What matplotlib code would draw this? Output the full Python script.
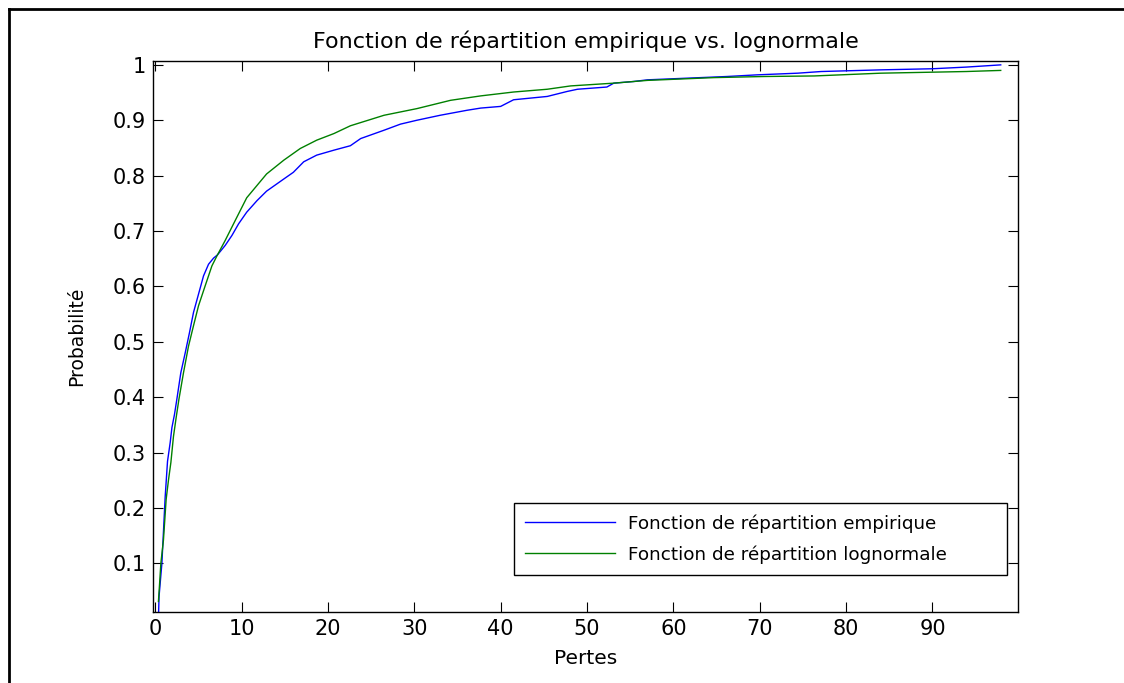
import matplotlib
matplotlib.use("Agg")
import matplotlib.pyplot as plt
from matplotlib.lines import Line2D

plt.rcParams['font.family'] = ['DejaVu Sans']

emp_x = [0.38, 0.45, 0.78, 1.16, 1.43, 1.74, 1.94, 2.24, 2.51, 2.97, 3.48, 3.98,
         4.44, 5.02, 5.6, 6.18, 6.76, 7.22, 8.11, 8.89, 9.66, 10.6, 11.8, 12.9,
         14.9, 16.0, 17.2, 18.7, 20.7, 22.6, 23.8, 26.5, 28.4, 30.3, 33.0, 36.1,
         37.7, 40.0, 41.5, 45.4, 47.7, 48.9, 52.3, 53.1, 55.4, 57.0, 66.2, 69.7,
         74.4, 77.1, 84.0, 90.0, 93.9, 97.9]
emp_y = [0.0, 0.04, 0.10, 0.22, 0.284, 0.318, 0.345, 0.369, 0.396, 0.444, 0.48, 0.517,
         0.553, 0.586, 0.619, 0.64, 0.651, 0.657, 0.674, 0.692, 0.713, 0.734, 0.755, 0.772,
         0.794, 0.806, 0.825, 0.837, 0.846, 0.854, 0.867, 0.882, 0.893, 0.900, 0.909, 0.918,
         0.922, 0.925, 0.937, 0.943, 0.952, 0.956, 0.960, 0.967, 0.970, 0.973, 0.979, 0.982,
         0.985, 0.988, 0.991, 0.993, 0.996, 1.0]

# Lognormal CDF
logn_x = [0.38, 0.5, 0.66, 0.96, 1.27, 1.54, 1.82, 2.12, 2.43, 2.75, 3.28, 3.86,
          4.44, 5.02, 5.79, 6.57, 7.15, 8.11, 9.27, 10.6, 12.9, 14.9, 16.8, 18.7,
          20.7, 22.6, 26.5, 30.3, 34.2, 37.7, 41.5, 45.4, 48.1, 53.1, 57.0, 64.7,
          70.5, 76.3, 84.0, 93.9, 97.9]
logn_y = [0.031, 0.06, 0.10, 0.142, 0.215, 0.25, 0.282, 0.329, 0.363, 0.396, 0.444, 0.492,
          0.529, 0.565, 0.601, 0.637, 0.655, 0.683, 0.719, 0.760, 0.803, 0.828, 0.849, 0.864,
          0.876, 0.89, 0.909, 0.921, 0.936, 0.944, 0.951, 0.956, 0.962, 0.967, 0.972, 0.977,
          0.979, 0.980, 0.985, 0.988, 0.990]

x_ticks = [0, 10, 20, 30, 40, 50, 60, 70, 80, 90]
y_ticks = [0.1, 0.2, 0.3, 0.4, 0.5, 0.6, 0.7, 0.8, 0.9, 1.0]
y_tick_labels = ['0.1', '0.2', '0.3', '0.4', '0.5', '0.6', '0.7', '0.8', '0.9', '1']

fig = plt.figure(figsize=(11.24, 6.83), dpi=100)
W, H = 1124, 683
ax = fig.add_axes([153 / W, 1 - 612 / H, (1018 - 153) / W, (612 - 61) / H])

ax.plot(emp_x, emp_y, color=(0, 0, 1), lw=1.0, label='Fonction de répartition empirique')
ax.plot(logn_x, logn_y, color=(0, 0.5, 0), lw=1.0, label='Fonction de répartition lognormale')

ax.set_xlim(-0.25, 99.9)
ax.set_ylim(0.012, 1.007)
ax.set_xticks(x_ticks)
ax.set_xticklabels([str(t) for t in x_ticks])
ax.set_yticks(y_ticks)
ax.set_yticklabels(y_tick_labels)
ax.tick_params(direction='in', length=7, width=0.8, top=True, right=True,
               labelsize=15, pad=5, color='black')
for s in ax.spines.values():
    s.set_linewidth(1.0)

ax.set_title('Fonction de répartition empirique vs. lognormale', fontsize=16, pad=9)
ax.set_xlabel('Pertes', fontsize=14.5, labelpad=7)
ax.set_ylabel('Probabilité', fontsize=13.5, labelpad=19)

leg = ax.legend(loc='lower left', bbox_to_anchor=(0.417, 0.067, 0.570, 0.13),
                mode='expand', borderaxespad=0, fontsize=13.2, handlelength=4.9,
                handletextpad=0.72, labelspacing=0.68, borderpad=0.62,
                fancybox=False, framealpha=1, edgecolor='black')
leg.get_frame().set_linewidth(1.0)

# figure frame (top and left edges of the screenshot)
fig.add_artist(Line2D([8.5 / W, 8.5 / W], [0, 1 - 8.5 / H], transform=fig.transFigure,
                      color='black', lw=2.0))
fig.add_artist(Line2D([8.5 / W, 1], [1 - 8.5 / H, 1 - 8.5 / H], transform=fig.transFigure,
                      color='black', lw=2.0))

fig.savefig('out.png', dpi=100)
